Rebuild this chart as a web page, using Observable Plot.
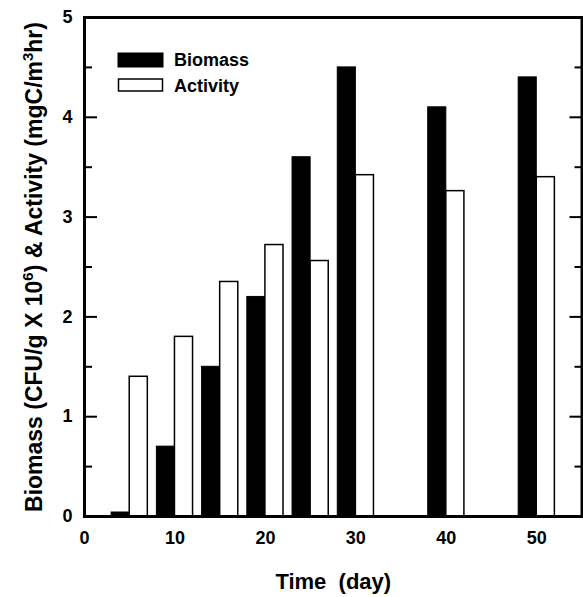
<!DOCTYPE html>
<html>
<head>
<meta charset="utf-8">
<script src="https://cdn.jsdelivr.net/npm/d3@7"></script>
<script src="https://cdn.jsdelivr.net/npm/@observablehq/plot@0.6"></script>
<style>
  html, body { margin: 0; padding: 0; background: #fff; }
  #chart svg { display: block; }
</style>
</head>
<body>
<div id="chart"></div>
<script>
const days = [5, 10, 15, 20, 25, 30, 40, 50];
const biomass = [0.04, 0.70, 1.50, 2.20, 3.60, 4.50, 4.10, 4.40];
const activity = [1.40, 1.80, 2.35, 2.72, 2.56, 3.42, 3.26, 3.40];
const xTicks = [0, 10, 20, 30, 40, 50];
const yTicks = [0, 1, 2, 3, 4, 5];
const yMinorTicks = [0.5, 1.5, 2.5, 3.5, 4.5];
const seriesNames = ["Biomass", "Activity"];

const barW = 2;
const bio = days.map((d, i) => ({day: d, v: biomass[i]}));
const act = days.map((d, i) => ({day: d, v: activity[i]}));

const font = "'Liberation Sans', Arial, Helvetica, sans-serif";
const tickFont = {fontSize: 18, fontWeight: "bold", fontFamily: font};
const intFmt = d => String(d);

const svg = Plot.plot({
  width: 583,
  height: 597,
  marginLeft: 84,
  marginRight: 1.5,
  marginTop: 17,
  marginBottom: 81,
  style: {fontFamily: font, background: "#fff", color: "#000"},
  x: {domain: [0, 55]},
  y: {domain: [0, 5]},
  marks: [
    Plot.rect(bio, {x1: d => d.day - barW, x2: d => d.day, y1: d => 0, y2: "v", fill: "black", stroke: "black", strokeWidth: 1}),
    Plot.rect(act, {x1: d => d.day, x2: d => d.day + barW, y1: d => 0, y2: "v", fill: "white", stroke: "black", strokeWidth: 1.5}),
    Plot.axisX({ticks: xTicks, tickSize: 0, tickPadding: 15, tickFormat: intFmt, label: null, ...tickFont}),
    Plot.axisY({anchor: "left", ticks: yTicks, tickSize: 0, tickPadding: 12, tickFormat: intFmt, label: null, ...tickFont}),
    Plot.axisY({anchor: "left", ticks: yTicks, tickSize: 13, dx: 13, tickFormat: () => "", label: null, strokeWidth: 2}),
    Plot.axisY({anchor: "left", ticks: yMinorTicks, tickSize: 8, dx: 8, tickFormat: () => "", label: null, strokeWidth: 2}),
    Plot.axisY({anchor: "right", ticks: yTicks, tickSize: 13, dx: -13, tickFormat: () => "", label: null, strokeWidth: 2}),
    Plot.axisY({anchor: "right", ticks: yMinorTicks, tickSize: 8, dx: -8, tickFormat: () => "", label: null, strokeWidth: 2}),
    Plot.frame({stroke: "black", strokeWidth: 3}),
    Plot.text(["Time\u00a0 (day)"], {frameAnchor: "bottom", text: d => d, dy: 72, lineAnchor: "bottom", fontSize: 22, fontWeight: "bold", fontFamily: font})
  ]
});

const s = d3.select(svg);
// Y axis title with superscripts
const yt = s.append("text")
  .attr("transform", "translate(42,267) rotate(-90)")
  .attr("text-anchor", "middle")
  .attr("font-size", 23)
  .attr("font-weight", "bold")
  .attr("font-family", font)
  .attr("fill", "black");
yt.append("tspan").text("Biomass (CFU/g X 10");
yt.append("tspan").attr("font-size", 15).attr("dy", -9).text("6");
yt.append("tspan").attr("dy", 9).text(") & Activity (mgC/m");
yt.append("tspan").attr("font-size", 15).attr("dy", -9).text("3");
yt.append("tspan").attr("dy", 9).text("hr)");

// Legend
const lg = s.append("g")
  .attr("font-family", font).attr("font-weight", "bold").attr("font-size", 18)
  .attr("text-anchor", "start").attr("fill", "black");
lg.append("rect").attr("x", 118).attr("y", 53).attr("width", 45).attr("height", 14).attr("fill", "black").attr("stroke", "black");
lg.append("rect").attr("x", 118.5).attr("y", 79).attr("width", 44).attr("height", 12).attr("fill", "white").attr("stroke", "black").attr("stroke-width", 1.5);
lg.append("text").attr("x", 174).attr("y", 66).text(seriesNames[0]);
lg.append("text").attr("x", 174).attr("y", 92).text(seriesNames[1]);

document.getElementById("chart").appendChild(svg);
</script>
</body>
</html>
